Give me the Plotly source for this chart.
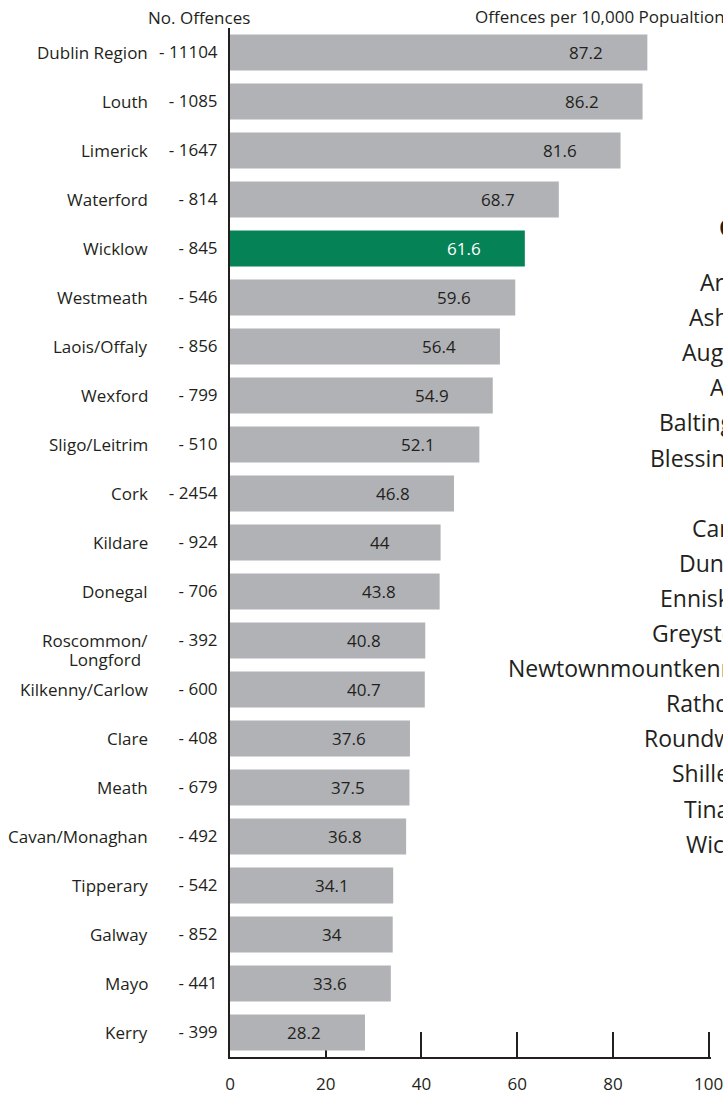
import plotly.graph_objects as go

# ---- data ----
regions = ["Dublin Region", "Louth", "Limerick", "Waterford", "Wicklow", "Westmeath",
           "Laois/Offaly", "Wexford", "Sligo/Leitrim", "Cork", "Kildare", "Donegal",
           "Roscommon/<br>Longford", "Kilkenny/Carlow", "Clare", "Meath", "Cavan/Monaghan",
           "Tipperary", "Galway", "Mayo", "Kerry"]
offences = [11104, 1085, 1647, 814, 845, 546, 856, 799, 510, 2454, 924, 706,
            392, 600, 408, 679, 492, 542, 852, 441, 399]
rate_per_10000 = [87.2, 86.2, 81.6, 68.7, 61.6, 59.6, 56.4, 54.9, 52.1, 46.8, 44, 43.8,
                  40.8, 40.7, 37.6, 37.5, 36.8, 34.1, 34, 33.6, 28.2]
highlight = "Wicklow"
x_ticks = [0, 20, 40, 60, 80, 100]
town_heading = "Crime"
towns = ["Arklow", "Ashford", "Aughrim", "Avoca", "Baltinglass", "Blessington", "",
         "Carnew", "Dunlavin", "Enniskerry", "Greystones", "Newtownmountkennedy",
         "Rathdrum", "Roundwood", "Shillelagh", "Tinahely", "Wicklow"]

# ---- style ----
W, H = 723, 1095
L, R, T, B = 230, 709, 28, 1057      # pixel frame: x=0 at L, x=100 at R
XMAX = 100.5
R_PLOT = L + (R - L) * XMAX / 100
FONT = "Open Sans"
DARK = "#231f20"
GREY = "#b1b2b5"
GREEN = "#058256"


def px_x(p):
    return (p - L) / (R_PLOT - L)


def px_y(p):
    return (B - p) / (B - T)


colors = [GREEN if r == highlight else GREY for r in regions]
txtcol = ["white" if r == highlight else DARK for r in regions]

fig = go.Figure()
fig.add_trace(go.Bar(
    x=rate_per_10000, y=regions, orientation="h",
    marker=dict(color=colors, line=dict(width=0)),
    hoverinfo="x+y",
))

ann = []
# value labels inside bars
for reg, v, c in zip(regions, rate_per_10000, txtcol):
    ann.append(dict(x=v, y=reg, xref="x", yref="y", text=f"{v:g}", showarrow=False,
                    xanchor="center", yanchor="middle", xshift=-61,
                    font=dict(family=FONT, size=17, color=c)))
# region names
for reg in regions:
    lines = reg.split("<br>")
    for i, ln in enumerate(lines):
        ann.append(dict(x=px_x(150), y=reg, xref="paper", yref="y", text=ln,
                        showarrow=False, xanchor="right", yanchor="middle",
                        yshift=-19 * i, xshift=-7 * i,
                        font=dict(family=FONT, size=17, color=DARK)))
# headers
ann.append(dict(x=px_x(199), y=px_y(18), xref="paper", yref="paper", text="No. Offences",
                showarrow=False, xanchor="center", yanchor="middle",
                font=dict(family=FONT, size=17, color=DARK)))
ann.append(dict(x=px_x(473), y=px_y(16), xref="paper", yref="paper",
                text="Offences per 10,000 Popualtion", showarrow=False,
                xanchor="left", yanchor="middle",
                font=dict(family=FONT, size=17, color=DARK)))
# town list (partly outside the frame)
ann.append(dict(x=px_x(717), y=px_y(227), xref="paper", yref="paper",
                text=f"<b>{town_heading}</b>", showarrow=False,
                xanchor="left", yanchor="middle",
                font=dict(family=FONT, size=23, color=DARK)))
for i, t in enumerate(towns):
    if not t:
        continue
    ann.append(dict(x=px_x(776), y=px_y(282 + 35.1 * i), xref="paper", yref="paper",
                    text=t, showarrow=False, xanchor="right", yanchor="middle",
                    font=dict(family=FONT, size=23, color=DARK)))

fig.update_layout(
    width=W, height=H,
    margin=dict(l=L, r=W - R_PLOT, t=T, b=H - B, pad=0, autoexpand=False),
    paper_bgcolor="white", plot_bgcolor="white",
    showlegend=False, bargap=0.265,
    font=dict(family=FONT, size=17, color=DARK),
    annotations=ann,
    xaxis=dict(range=[0, XMAX], tickvals=x_ticks, ticks="inside", ticklen=25,
               tickwidth=2, tickcolor=DARK, showline=True, linewidth=2, linecolor=DARK,
               showgrid=False, zeroline=False, layer="below traces", automargin=False,
               ticklabelstandoff=11, ticklabeloverflow="allow",
               tickfont=dict(family=FONT, size=17, color=DARK)),
    yaxis=dict(categoryorder="array", categoryarray=regions, autorange="reversed",
               tickvals=regions, ticktext=[f"- {n}" for n in offences],
               ticks="", showline=True, linewidth=2, linecolor=DARK,
               showgrid=False, zeroline=False, layer="below traces", automargin=False,
               ticklabelstandoff=7, ticklabeloverflow="allow",
               tickfont=dict(family=FONT, size=17, color=DARK)),
)

fig.write_html(
    "out.html",
    config={"displayModeBar": False},
    post_script="document.body.style.margin='0';document.body.style.overflow='hidden';",
)
